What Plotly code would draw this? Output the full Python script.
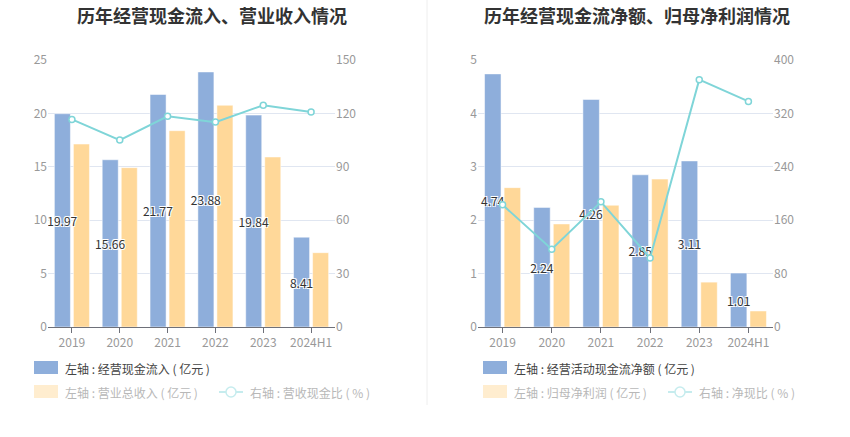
import plotly.graph_objects as go

# data
years = ['2019', '2020', '2021', '2022', '2023', '2024H1']

cash_inflow = [19.97, 15.66, 21.77, 23.88, 19.84, 8.41]      # 经营现金流入 (亿元)
revenue = [17.13, 14.92, 18.38, 20.76, 15.92, 6.96]          # 营业总收入 (亿元)
revenue_cash_ratio = [116.6, 105.0, 118.4, 115.1, 124.6, 120.8]  # 营收现金比 (%)

net_cash_flow = [4.74, 2.24, 4.26, 2.85, 3.11, 1.01]          # 经营活动现金流净额 (亿元)
net_profit = [2.61, 1.93, 2.28, 2.77, 0.84, 0.30]             # 归母净利润 (亿元)
net_cash_ratio = [183.0, 116.5, 187.5, 103.5, 370.5, 338.0]   # 净现比 (%)

W, H = 850, 437
FONT = 'Noto Sans CJK SC'
BLUE = '#8eaedb'
ORANGE = '#ffd899'
TEAL = '#7fd5d8'
OUTLINE = '-1px -1px 0 #fff, 1px -1px 0 #fff, -1px 1px 0 #fff, 1px 1px 0 #fff'
BAR_W = 0.335
GAP = 0.063


def px_x(x):
    return x / W


def px_y(y):
    return 1 - y / H


def add_panel(fig, xa, ya, ya2, bars1, bars2, ratio, name1, name2, name3):
    # orange first so the blue bar labels end up drawn on top of it
    fig.add_trace(go.Bar(
        x=years, y=bars2, name=name2, xaxis=xa, yaxis=ya,
        width=BAR_W, offset=GAP / 2,
        marker=dict(color=ORANGE, line=dict(color='#ffffff', width=0.5)),
        showlegend=False))
    fig.add_trace(go.Bar(
        x=years, y=bars1, name=name1, xaxis=xa, yaxis=ya,
        width=BAR_W, offset=-(BAR_W + GAP / 2),
        marker=dict(color=BLUE, line=dict(color='#ffffff', width=0.5)),
        text=[f'{v:.2f}' for v in bars1], textposition='inside',
        insidetextanchor='middle', textangle=0, constraintext='none',
        textfont=dict(size=12, color='#333333', family=FONT, shadow=OUTLINE),
        showlegend=False))
    fig.add_trace(go.Scatter(
        x=years, y=ratio, name=name3, xaxis=xa, yaxis=ya2,
        mode='lines+markers', line=dict(color=TEAL, width=2),
        marker=dict(symbol='circle', size=6, color='#ffffff',
                    line=dict(color=TEAL, width=1.5)),
        showlegend=False))


fig = go.Figure()
add_panel(fig, 'x', 'y', 'y2', cash_inflow, revenue, revenue_cash_ratio,
          '经营现金流入', '营业总收入', '营收现金比')
add_panel(fig, 'x2', 'y3', 'y4', net_cash_flow, net_profit, net_cash_ratio,
          '经营活动现金流净额', '归母净利润', '净现比')

tick_font = dict(size=12, color='#999999', family=FONT)
ydom = [px_y(327), px_y(60)]


def xaxis_style(dom, anchor):
    return dict(domain=dom, anchor=anchor, type='category',
                showline=True, linecolor='#6e7079', linewidth=1,
                ticks='outside', ticklen=5, tickcolor='#6e7079',
                tickfont=tick_font, showgrid=False, fixedrange=True,
                automargin=False)


def yaxis_style(rng, dtick, side='left', overlay=None, anchor=None):
    d = dict(domain=ydom, range=rng, dtick=dtick, side=side,
             showline=False, zeroline=False, tickfont=tick_font,
             gridcolor='#e0e6f1', showgrid=overlay is None,
             ticks='', fixedrange=True, automargin=False)
    if overlay:
        d['overlaying'] = overlay
    if anchor:
        d['anchor'] = anchor
    return d


fig.update_layout(
    width=W, height=H,
    margin=dict(l=0, r=0, t=0, b=0, pad=0, autoexpand=False),
    paper_bgcolor='#ffffff', plot_bgcolor='#ffffff',
    font=dict(family=FONT),
    barmode='group',
    xaxis=xaxis_style([px_x(48), px_x(335)], 'y'),
    xaxis2=xaxis_style([px_x(478), px_x(773)], 'y3'),
    yaxis=yaxis_style([0, 25], 5, anchor='x'),
    yaxis2=yaxis_style([0, 150], 30, side='right', overlay='y', anchor='x'),
    yaxis3=yaxis_style([0, 5], 1, anchor='x2'),
    yaxis4=yaxis_style([0, 400], 80, side='right', overlay='y3', anchor='x2'),
)

# titles
for cx, title in [(212, '历年经营现金流入、营业收入情况'), (637, '历年经营现金流净额、归母净利润情况')]:
    fig.add_annotation(x=px_x(cx), y=px_y(15), xref='paper', yref='paper',
                       xanchor='center', yanchor='middle',
                       text=f'<b>{title}</b>', showarrow=False,
                       font=dict(size=18, color='#333333', family=FONT))

# divider between the two panels
fig.add_shape(type='line', xref='paper', yref='paper',
              x0=px_x(427), x1=px_x(427), y0=1, y1=px_y(405),
              line=dict(color='#eeeeee', width=1))

# hand-drawn legends (second row greyed out as in the reference)
legends = [
    (34, 219, '左轴 : 经营现金流入 ( 亿元 )', '左轴 : 营业总收入 ( 亿元 )', '右轴 : 营收现金比 ( % )'),
    (483, 668, '左轴 : 经营活动现金流净额 ( 亿元 )', '左轴 : 归母净利润 ( 亿元 )', '右轴 : 净现比 ( % )'),
]


def legend_text(x, y, text, color):
    fig.add_annotation(x=px_x(x), y=px_y(y), xref='paper', yref='paper',
                       xanchor='left', yanchor='middle', text=text, showarrow=False,
                       font=dict(size=12, color=color, family=FONT))


for sx, lx, t1, t2, t3 in legends:
    fig.add_shape(type='rect', xref='paper', yref='paper',
                  x0=px_x(sx), x1=px_x(sx + 24), y0=px_y(374), y1=px_y(361),
                  fillcolor=BLUE, line=dict(width=0))
    legend_text(sx + 29, 368, t1, '#444444')
    fig.add_shape(type='rect', xref='paper', yref='paper',
                  x0=px_x(sx), x1=px_x(sx + 24), y0=px_y(398), y1=px_y(385),
                  fillcolor='#ffedcf', line=dict(width=0))
    legend_text(sx + 29, 392, t2, '#b8b8b8')
    fig.add_shape(type='line', xref='paper', yref='paper',
                  x0=px_x(lx), x1=px_x(lx + 24), y0=px_y(392), y1=px_y(392),
                  line=dict(color='#c6ecee', width=2))
    fig.add_shape(type='circle', xref='paper', yref='paper',
                  x0=px_x(lx + 7), x1=px_x(lx + 17), y0=px_y(397), y1=px_y(387),
                  fillcolor='#ffffff', line=dict(color='#c6ecee', width=1.5))
    legend_text(lx + 29, 392, t3, '#b8b8b8')

# drop the browser's default 8px body margin so the figure sits at the page corner
fig.write_html('out.html', config={'displayModeBar': False},
               post_script="document.body.style.margin='0';")
